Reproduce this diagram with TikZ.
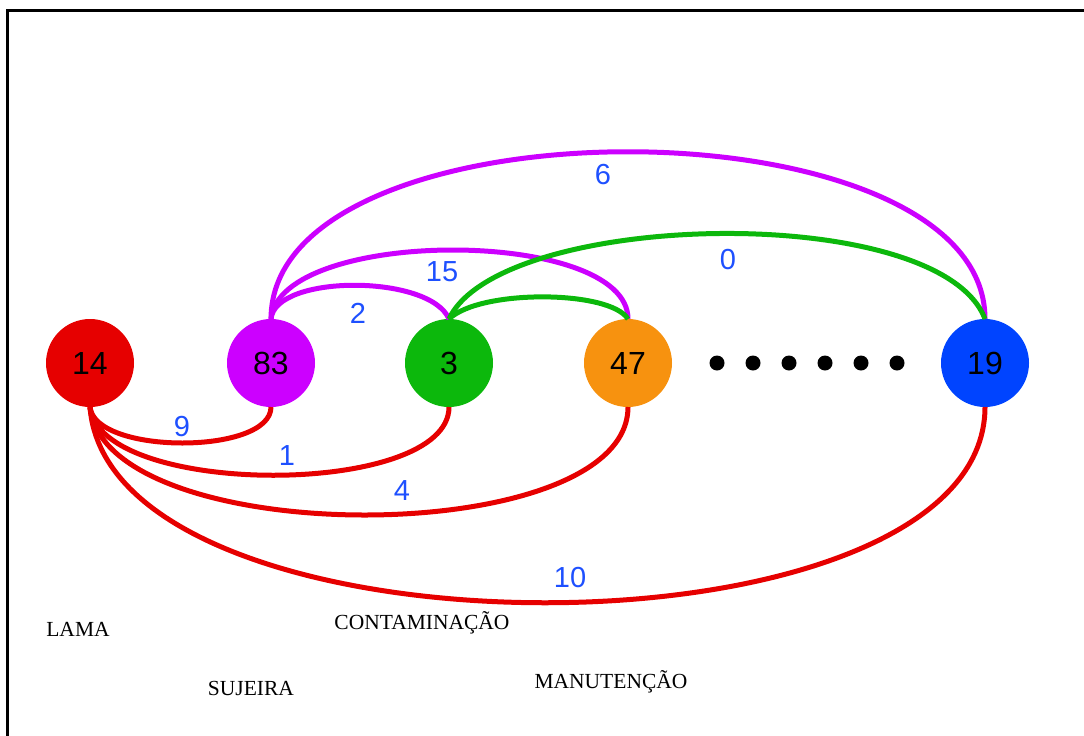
\documentclass[tikz,border=0pt]{standalone}
\usepackage{fontspec}
\setmainfont{Liberation Serif}
\newfontfamily\numfont{Liberation Sans}
\definecolor{lamared}{RGB}{230,0,0}
\definecolor{sujpurple}{RGB}{204,0,255}
\definecolor{contgreen}{RGB}{12,184,12}
\definecolor{manorange}{RGB}{247,146,15}
\definecolor{nodeblue}{RGB}{0,68,255}
\definecolor{wtblue}{RGB}{30,80,255}

\begin{document}
\begin{tikzpicture}[x=1pt, y=-1pt,
    vert/.style={circle, minimum size=88pt, inner sep=0pt, outer sep=0pt, fill=#1,
      font=\numfont\fontsize{32}{32}\selectfont},
    edge/.style={line width=5pt, draw=#1},
    wt/.style={text=wtblue, inner sep=0pt, font=\numfont\fontsize{29}{29}\selectfont},
    tag/.style={inner sep=0pt, font=\fontsize{21.5}{24}\selectfont}]
    \useasboundingbox (0,0) rectangle (1084,736);
    % Frame
    \draw[line width=3pt] (7.5,736) -- (7.5,10.5) -- (1084,10.5);

    % Vertices
    \node[vert=lamared]   (v14) at (90,363)  {14};
    \node[vert=sujpurple] (v83) at (271,363) {83};
    \node[vert=contgreen] (v3)  at (449,363) {3};
    \node[vert=manorange] (v47) at (628,363) {47};
    \node[vert=nodeblue]  (v19) at (985,363) {19};

    % The dots
    \foreach \x in {717,753,789,825,861,897}
      \fill (\x,363) circle (7.5pt);

    % Edges from 14
    \draw[edge=lamared] (v14.south) .. controls +(5,48) and +(0,48) .. (v83.south);
    \draw[edge=lamared] (v14.south) .. controls +(10,91) and +(0,91) .. (v3.south);
    \draw[edge=lamared] (v14.south) .. controls +(15,144) and +(0,144) .. (v47.south);
    \draw[edge=lamared] (v14.south) .. controls +(20,261) and +(0,261) .. (v19.south);

    % Edges from 83
    \draw[edge=sujpurple] (v83.north) .. controls +(4,-45) and +(-19,-45) .. (v3.north);
    \draw[edge=sujpurple] (v83.north) .. controls +(9,-92) and +(0,-92) .. (v47.north);
    \draw[edge=sujpurple] (v83.north) .. controls +(0,-223) and +(0,-223) .. (v19.north);

    % Edges from 3
    \draw[edge=contgreen] (v3.north) .. controls +(31,-30) and +(-18,-29) .. (v47.north);
    \draw[edge=contgreen] (v3.north) .. controls +(51,-109) and +(-45,-119) .. (v19.north);

    % Weights
    \node[wt] (w6)  at (603,175) {6};
    \node[wt] (w0)  at (728,260) {0};
    \node[wt] (w15) at (442,272) {15};
    \node[wt] (w2)  at (358,313) {2};
    \node[wt] (w9)  at (182,427) {9};
    \node[wt] (w1)  at (287,456) {1};
    \node[wt] (w4)  at (402,491) {4};
    \node[wt] (w10) at (570,578) {10};

    % Tags
    \node[tag] (lama) at (78,629)  {LAMA};
    \node[tag] (cont) at (422,623) {CONTAMINAÇÃO};
    \node[tag] (suj)  at (251,688) {SUJEIRA};
    \node[tag] (man)  at (611,682) {MANUTENÇÃO};
\end{tikzpicture}
\end{document}
